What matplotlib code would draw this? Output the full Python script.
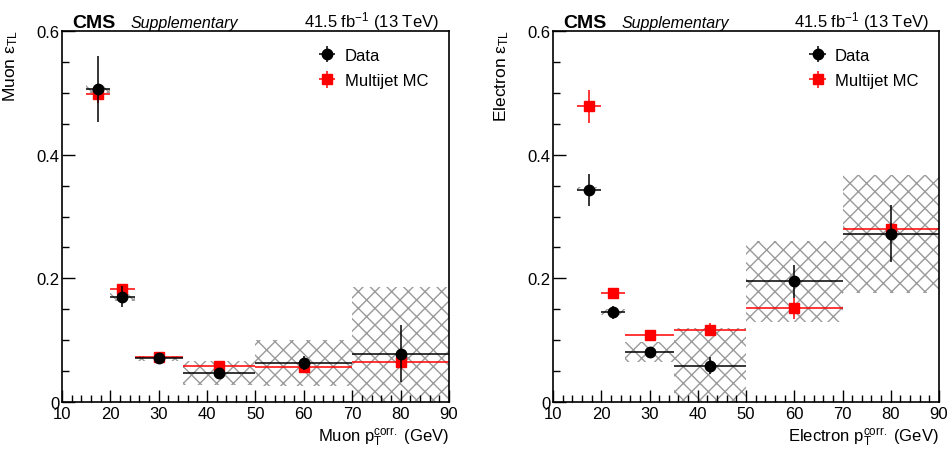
import matplotlib
matplotlib.use("Agg")
import matplotlib.pyplot as plt
import numpy as np

plt.rcParams['font.family'] = ['Liberation Sans', 'DejaVu Sans']
plt.rcParams['mathtext.fontset'] = 'custom'
plt.rcParams['mathtext.rm'] = 'Liberation Sans'
plt.rcParams['mathtext.it'] = 'Liberation Sans:italic'
plt.rcParams['hatch.linewidth'] = 1.0

# pT bins (GeV)
bin_edges = [15, 20, 25, 35, 50, 70, 90]

# muon fake rate
mu_data = [0.506, 0.170, 0.071, 0.047, 0.063, 0.078]
mu_data_err = [0.053, 0.017, 0.004, 0.005, 0.011, 0.046]
mu_mc = [0.498, 0.183, 0.073, 0.058, 0.057, 0.064]
mu_mc_err = [0.015, 0.005, 0.003, 0.004, 0.006, 0.008]
mu_syst = [0.006, 0.006, 0.004, 0.019, 0.037, 0.108]

# electron fake rate
el_data = [0.343, 0.145, 0.081, 0.059, 0.195, 0.272]
el_data_err = [0.026, 0.010, 0.004, 0.013, 0.026, 0.046]
el_mc = [0.478, 0.176, 0.108, 0.117, 0.152, 0.279]
el_mc_err = [0.026, 0.006, 0.004, 0.010, 0.017, 0.010]
el_syst = [0.005, 0.005, 0.016, 0.061, 0.066, 0.095]

edges = np.array(bin_edges, dtype=float)
centers = 0.5 * (edges[1:] + edges[:-1])
halfw = 0.5 * (edges[1:] - edges[:-1])

fig = plt.figure(figsize=(9.52, 4.52), dpi=100)
ax1 = fig.add_axes([0.0651, 0.1084, 0.4065, 0.8208])
ax2 = fig.add_axes([0.5809, 0.1084, 0.4055, 0.8208])


def draw_panel(ax, lep, data, derr, mc, mcerr, syst):
    data = np.array(data)
    syst = np.array(syst)
    ax.bar(edges[:-1], 2 * syst, bottom=data - syst, width=2 * halfw, align='edge',
           fill=False, hatch='xx', edgecolor='#9a9a9a', linewidth=0, zorder=1)
    ax.errorbar(centers, mc, xerr=halfw, yerr=mcerr, fmt='s', color='red', ms=7,
                elinewidth=1.1, capsize=0, label='Multijet MC', zorder=2)
    ax.errorbar(centers, data, xerr=halfw, yerr=derr, fmt='o', color='black', ms=7.5,
                elinewidth=1.1, capsize=0, label='Data', zorder=3)

    ax.set_xlim(10, 90)
    ax.set_ylim(0, 0.6)
    ax.set_xticks(np.arange(10, 91, 10))
    ax.set_xticks(np.arange(10, 91, 2), minor=True)
    ax.set_yticks([0, 0.2, 0.4, 0.6])
    ax.set_yticklabels(['0', '0.2', '0.4', '0.6'])
    ax.set_yticks(np.arange(0, 0.601, 0.05), minor=True)
    ax.tick_params(which='both', direction='in', labelsize=12, pad=2)
    ax.tick_params(which='major', length=9, width=1)
    ax.tick_params(which='minor', length=5, width=1)
    ax.tick_params(axis='x', pad=3)
    for s in ax.spines.values():
        s.set_linewidth(1.2)

    ax.set_xlabel(lep + r' p$_{\mathrm{T}}^{\mathrm{corr.}}$ (GeV)', fontsize=12, loc='right')
    ax.xaxis.set_label_coords(1.0, -0.062)
    ax.set_ylabel(lep + r' ε$_{\mathrm{TL}}$', fontsize=12.5, loc='top')
    ax.yaxis.set_label_coords(-0.109, 1.005)

    ax.text(0.026, 1.012, 'CMS', transform=ax.transAxes, fontsize=14, fontweight='bold')
    ax.text(0.178, 1.012, 'Supplementary', transform=ax.transAxes, fontsize=11.5, style='italic')
    ax.text(0.974, 1.012, r'41.5 fb$^{-1}$ (13 TeV)', transform=ax.transAxes, fontsize=12,
            ha='right')

    h, l = ax.get_legend_handles_labels()
    ax.legend(h[::-1], l[::-1], loc='upper left', bbox_to_anchor=(0.655, 0.955), frameon=False,
              fontsize=12, handlelength=1.4, handletextpad=0.35, labelspacing=0.62,
              borderpad=0, borderaxespad=0)


draw_panel(ax1, 'Muon', mu_data, mu_data_err, mu_mc, mu_mc_err, mu_syst)
draw_panel(ax2, 'Electron', el_data, el_data_err, el_mc, el_mc_err, el_syst)

fig.savefig('out.png', dpi=100)
